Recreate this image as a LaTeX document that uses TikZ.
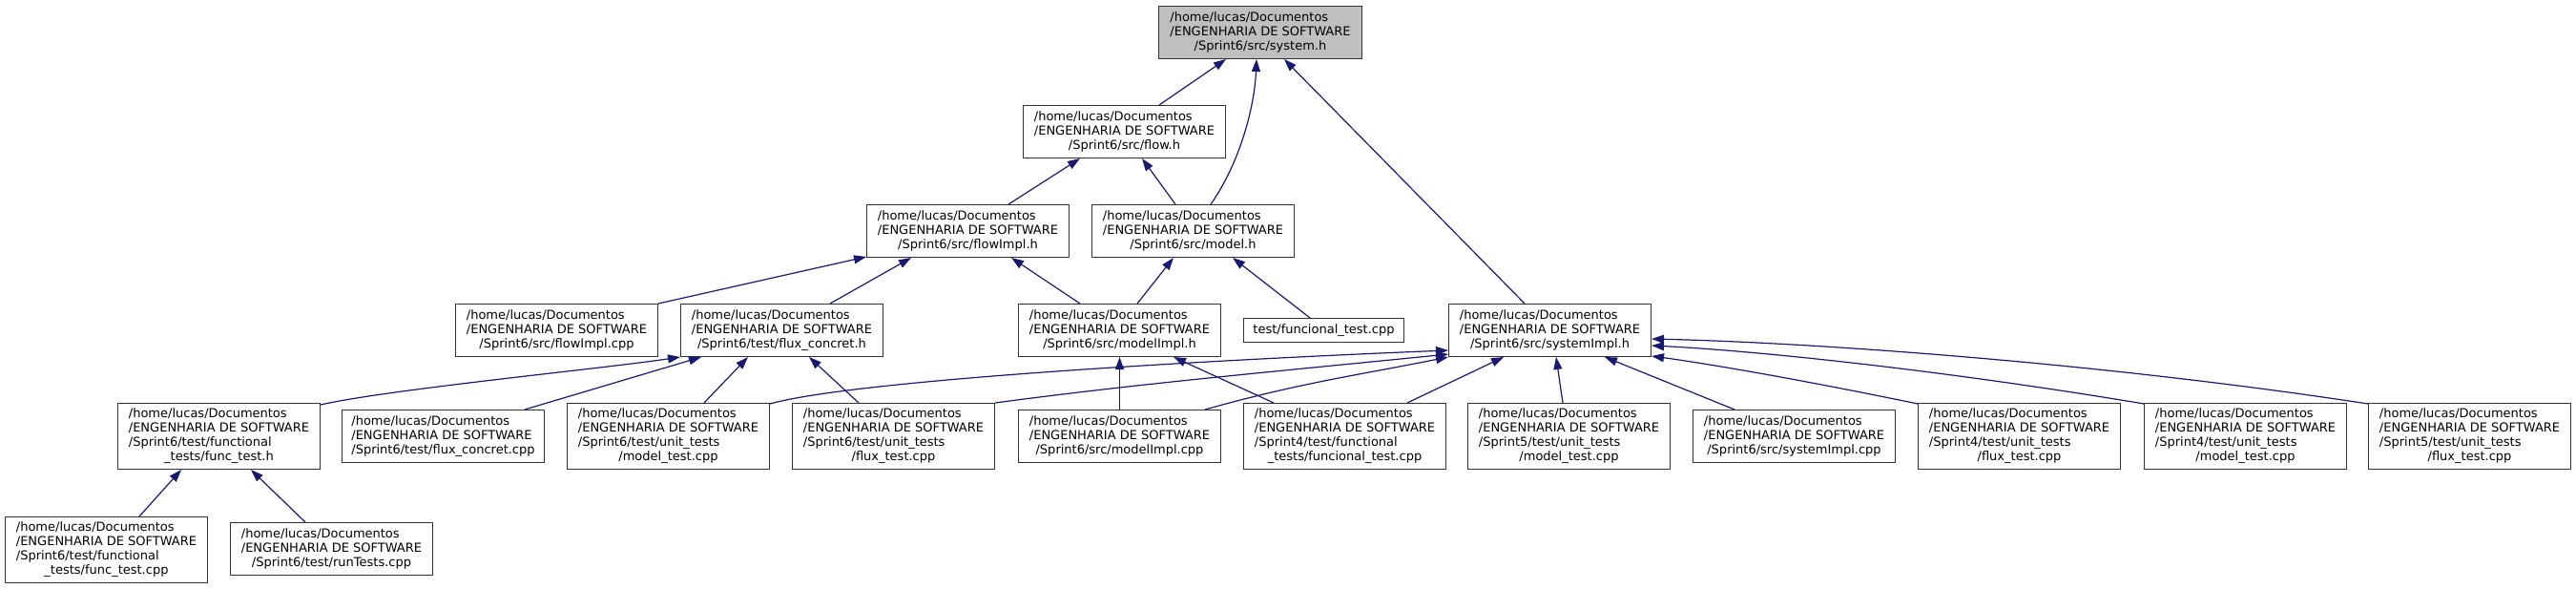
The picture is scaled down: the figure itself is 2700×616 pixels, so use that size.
\documentclass[tikz,border=0pt]{standalone}
\usepackage{fontspec}
\setmainfont{DejaVu Sans}
\usetikzlibrary{arrows.meta,calc}
\definecolor{edgecol}{HTML}{191970}
\definecolor{rootfill}{HTML}{BFBFBF}
\newcommand\mythree[1]{\begin{tabular}{@{}l@{}}/home/lucas/Documentos\\/ENGENHARIA DE SOFTWARE\\\multicolumn{1}{@{}c@{}}{#1}\end{tabular}}
\newcommand\myfour[2]{\begin{tabular}{@{}l@{}}/home/lucas/Documentos\\/ENGENHARIA DE SOFTWARE\\#1\\\multicolumn{1}{@{}c@{}}{#2}\end{tabular}}
\tikzset{
  box/.style={draw=black!80, line width=1pt, fill=white, inner sep=0pt, minimum width=212pt, anchor=north west, font=\fontsize{13}{15}\selectfont},
  hthree/.style={box, minimum height=55pt},
  hfour/.style={box, minimum height=69pt},
  edge/.style={draw=edgecol, line width=1.2pt, -{Triangle[length=13pt,width=9pt]}},
}
\begin{document}
\begin{tikzpicture}[x=1pt,y=-1pt]
\useasboundingbox (0,0) rectangle (2700,616);
% row 0
\node[hthree, fill=rootfill, minimum width=213pt] (sys) at (1214,6) {\mythree{/Sprint6/src/system.h}};
% row 1
\node[hthree] (flowh) at (1072,110) {\mythree{/Sprint6/src/flow.h}};
% row 2
\node[hthree] (flowImplh) at (908,214) {\mythree{/Sprint6/src/flowImpl.h}};
\node[hthree] (modelh) at (1144,214) {\mythree{/Sprint6/src/model.h}};
% row 3
\node[hthree] (flowImplcpp) at (477,318) {\mythree{/Sprint6/src/flowImpl.cpp}};
\node[hthree] (fluxconcreth) at (713,318) {\mythree{/Sprint6/test/flux\_concret.h}};
\node[hthree] (modelImplh) at (1067,318) {\mythree{/Sprint6/src/modelImpl.h}};
\node[box, minimum width=168pt, minimum height=25pt] (testfunc) at (1303,333) {test/funcional\_test.cpp};
\node[hthree] (systemImplh) at (1518,318) {\mythree{/Sprint6/src/systemImpl.h}};
% row 4
\node[hfour] (functesth) at (123,422) {\myfour{/Sprint6/test/functional}{\_tests/func\_test.h}};
\node[hthree] (fluxconcretcpp) at (358,429) {\mythree{/Sprint6/test/flux\_concret.cpp}};
\node[hfour] (modeltestsix) at (594,422) {\myfour{/Sprint6/test/unit\_tests}{/model\_test.cpp}};
\node[hfour] (fluxtestsix) at (830,422) {\myfour{/Sprint6/test/unit\_tests}{/flux\_test.cpp}};
\node[hthree] (modelImplcpp) at (1067,429) {\mythree{/Sprint6/src/modelImpl.cpp}};
\node[hfour] (funcionalfour) at (1303,422) {\myfour{/Sprint4/test/functional}{\_tests/funcional\_test.cpp}};
\node[hfour] (modeltestfive) at (1538,422) {\myfour{/Sprint5/test/unit\_tests}{/model\_test.cpp}};
\node[hthree] (systemImplcpp) at (1774,429) {\mythree{/Sprint6/src/systemImpl.cpp}};
\node[hfour] (fluxtestfour) at (2010,422) {\myfour{/Sprint4/test/unit\_tests}{/flux\_test.cpp}};
\node[hfour] (modeltestfour) at (2247,422) {\myfour{/Sprint4/test/unit\_tests}{/model\_test.cpp}};
\node[hfour] (fluxtestfive) at (2482,422) {\myfour{/Sprint5/test/unit\_tests}{/flux\_test.cpp}};
% row 5
\node[hfour] (functestcpp) at (5,541) {\myfour{/Sprint6/test/functional}{\_tests/func\_test.cpp}};
\node[hthree] (runtests) at (241,547) {\mythree{/Sprint6/test/runTests.cpp}};

% edges
\draw[edge] ($(flowh.north west)+(143,0)$) -- ($(sys.south west)+(71,0)$);
\draw[edge] ($(modelh.north west)+(125,0)$) .. controls +(31,-44) and +(-2,49) .. ($(sys.south west)+(103,0)$);
\draw[edge] ($(systemImplh.north west)+(80,0)$) -- ($(sys.south west)+(132,0)$);
\draw[edge] ($(flowImplh.north west)+(149,0)$) -- ($(flowh.south west)+(60,0)$);
\draw[edge] ($(modelh.north west)+(88,0)$) -- ($(flowh.south west)+(125,0)$);
\draw[edge] (flowImplcpp.north east) -- ($(flowImplh.south west)+(0,-1)$);
\draw[edge] ($(fluxconcreth.north west)+(157,0)$) -- ($(flowImplh.south west)+(47,0)$);
\draw[edge] ($(modelImplh.north west)+(65,0)$) -- ($(flowImplh.south west)+(152,0)$);
\draw[edge] ($(modelImplh.north west)+(125,0)$) -- ($(modelh.south west)+(86,0)$);
\draw[edge] ($(testfunc.north west)+(70,0)$) -- ($(modelh.south west)+(148,0)$);
\draw[edge] ($(functesth.north east)+(0,2)$) .. controls +(70,-16) and +(-80,12) .. ($(fluxconcreth.south west)+(0,0)$);
\draw[edge] ($(fluxconcretcpp.north west)+(192,0)$) -- ($(fluxconcreth.south west)+(22,0)$);
\draw[edge] ($(modeltestsix.north west)+(144,0)$) -- ($(fluxconcreth.south west)+(71,0)$);
\draw[edge] ($(fluxtestsix.north west)+(70,0)$) -- ($(fluxconcreth.south west)+(135,0)$);
\draw[edge] (modelImplcpp.north) -- (modelImplh.south);
\draw[edge] ($(funcionalfour.north west)+(32,0)$) -- ($(modelImplh.south west)+(163,0)$);
\draw[edge] ($(modeltestsix.north east)+(0,1)$) .. controls +(90,-25) and +(-250,10) .. ($(systemImplh.south west)+(0,-7)$);
\draw[edge] (fluxtestsix.north east) .. controls +(150,-20) and +(-200,20) .. ($(systemImplh.south west)+(0,-3)$);
\draw[edge] ($(modelImplcpp.north east)+(-17,0)$) .. controls +(100,-28) and +(-100,20) .. ($(systemImplh.south west)+(0,0)$);
\draw[edge] ($(funcionalfour.north west)+(172,0)$) -- ($(systemImplh.south west)+(58,0)$);
\draw[edge] ($(modeltestfive.north west)+(100,0)$) -- ($(systemImplh.south west)+(113,0)$);
\draw[edge] ($(systemImplcpp.north west)+(44,0)$) -- ($(systemImplh.south west)+(164,0)$);
\draw[edge] ($(fluxtestfour.north west)+(0,1)$) .. controls +(-160,-33) and +(30,4) .. ($(systemImplh.south east)+(0,-1)$);
\draw[edge] ($(modeltestfour.north west)+(0,1)$) .. controls +(-197,-33) and +(120,6) .. ($(systemImplh.south east)+(0,-12)$);
\draw[edge] ($(fluxtestfive.north west)+(0,1)$) .. controls +(-282,-43) and +(170,4) .. ($(systemImplh.south east)+(0,-19)$);
\draw[edge] ($(functestcpp.north west)+(141,0)$) -- ($(functesth.south west)+(67,0)$);
\draw[edge] ($(runtests.north west)+(79,0)$) -- ($(functesth.south west)+(140,0)$);
\end{tikzpicture}
\end{document}
